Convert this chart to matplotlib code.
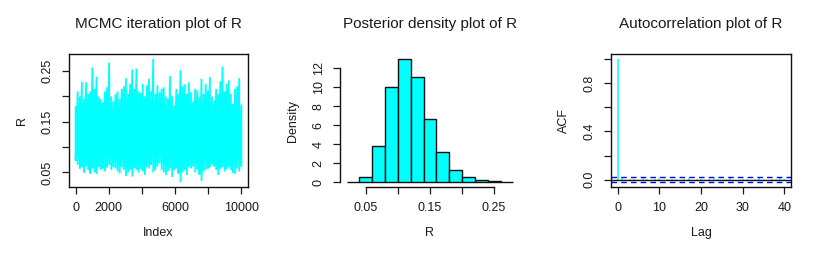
import numpy as np
import matplotlib
matplotlib.use("Agg")
from matplotlib import pyplot as plt

plt.rcParams['font.family'] = ['Liberation Sans', 'DejaVu Sans']
TXT = '#1a1a1a'

# --- trace of R: upper and lower envelope (80 each) ---
trace_high = [0.179, 0.210, 0.200, 0.229, 0.195, 0.228, 0.205, 0.210, 0.257, 0.215,
              0.239, 0.200, 0.195, 0.188, 0.210, 0.218, 0.267, 0.200, 0.190, 0.205,
              0.210, 0.195, 0.215, 0.220, 0.236, 0.205, 0.225, 0.253, 0.215, 0.255,
              0.210, 0.207, 0.225, 0.200, 0.222, 0.235, 0.210, 0.274, 0.205, 0.222,
              0.208, 0.215, 0.218, 0.200, 0.195, 0.240, 0.200, 0.182, 0.215, 0.205,
              0.252, 0.220, 0.224, 0.205, 0.228, 0.208, 0.190, 0.215, 0.212, 0.198,
              0.235, 0.205, 0.225, 0.212, 0.238, 0.200, 0.192, 0.215, 0.205, 0.230,
              0.259, 0.210, 0.225, 0.232, 0.205, 0.185, 0.215, 0.220, 0.236, 0.184]
trace_low = [0.073, 0.065, 0.058, 0.060, 0.050, 0.062, 0.055, 0.048, 0.058, 0.050,
             0.047, 0.060, 0.055, 0.058, 0.052, 0.060, 0.065, 0.055, 0.060, 0.058,
             0.052, 0.048, 0.060, 0.055, 0.043, 0.050, 0.056, 0.042, 0.060, 0.055,
             0.050, 0.056, 0.052, 0.045, 0.060, 0.058, 0.065, 0.050, 0.054, 0.062,
             0.068, 0.055, 0.050, 0.045, 0.053, 0.058, 0.041, 0.055, 0.058, 0.048,
             0.031, 0.050, 0.055, 0.045, 0.060, 0.058, 0.062, 0.050, 0.056, 0.046,
             0.033, 0.052, 0.055, 0.058, 0.060, 0.065, 0.062, 0.055, 0.045, 0.058,
             0.060, 0.052, 0.056, 0.060, 0.055, 0.050, 0.047, 0.058, 0.052, 0.063]
n_iter = 10000

# --- histogram of R (density per bin) ---
hist_breaks = [0.02, 0.04, 0.06, 0.08, 0.10, 0.12, 0.14, 0.16, 0.18, 0.20, 0.22, 0.24, 0.26, 0.28]
hist_density = [0.0, 0.5, 3.8, 10.0, 13.0, 11.1, 6.7, 3.2, 1.3, 0.5, 0.25, 0.1, 0.02]

# --- autocorrelation of R ---
acf_lags = list(range(0, 41))
acf_vals = [1.0, 0.01, -0.005, 0.008, 0.004, -0.006, 0.012, 0.003, -0.004, 0.007,
            0.010, -0.008, 0.005, 0.002, 0.009, -0.003, 0.006, 0.011, -0.002, 0.004,
            0.008, -0.007, 0.003, 0.010, 0.005, -0.004, 0.007, 0.012, 0.001, -0.005,
            0.006, 0.009, -0.002, 0.004, 0.013, 0.003, -0.006, 0.008, 0.005, 0.010, 0.002]
acf_clim = 1.96 / np.sqrt(n_iter)


def r_range(lo, hi):
    d = (hi - lo) * 0.04
    return lo - d, hi + d


def style_axis(ax):
    ax.tick_params(direction='out', length=5, width=0.9, colors=TXT, labelsize=9, pad=6)
    for s in ax.spines.values():
        s.set_linewidth(1.0)
        s.set_color('#111111')


fig = plt.figure(figsize=(8.18, 2.54), dpi=100)

# panel 1: trace
ax1 = fig.add_axes([69 / 818, 67 / 254, 179 / 818, 133 / 254])
trace = np.empty(2 * len(trace_high))
trace[0::2] = trace_high
trace[1::2] = trace_low
idx = np.repeat(np.linspace(1, n_iter, len(trace_high)), 2)
ax1.plot(idx, trace, color='#00ffff', lw=1.3, solid_joinstyle='miter')
ax1.set_xlim(*r_range(1, n_iter))
ax1.set_ylim(*r_range(min(trace), max(trace)))
ax1.set_xticks([0, 2000, 4000, 6000, 8000, 10000], ['0', '2000', '', '6000', '', '10000'])
ax1.set_yticks([0.05, 0.10, 0.15, 0.20, 0.25], ['0.05', '', '0.15', '', '0.25'])
style_axis(ax1)
for lab in ax1.get_yticklabels():
    lab.set_rotation(90)
    lab.set_va('center')
ax1.set_xlabel('Index', fontsize=9, color=TXT, labelpad=9)
ax1.set_ylabel('R', fontsize=9, color=TXT, labelpad=10)
ax1.set_title('MCMC iteration plot of R', fontsize=11, color=TXT, pad=19)

# panel 2: histogram
ax2 = fig.add_axes([340 / 818, 67 / 254, 180 / 818, 133 / 254])
left = hist_breaks[:-1]
widths = np.diff(hist_breaks)
ax2.bar(left, hist_density, width=widths, align='edge', color='#00ffff',
        edgecolor='#111111', linewidth=1.0)
ax2.set_xlim(*r_range(hist_breaks[0], hist_breaks[-1]))
ax2.set_ylim(*r_range(0, max(hist_density)))
ax2.set_xticks([0.05, 0.10, 0.15, 0.20, 0.25], ['0.05', '', '0.15', '', '0.25'])
ax2.set_yticks([0, 2, 4, 6, 8, 10, 12])
style_axis(ax2)
ax2.spines['top'].set_visible(False)
ax2.spines['right'].set_visible(False)
ax2.spines['left'].set_bounds(0, 12)
ax2.spines['bottom'].set_bounds(0.05, 0.25)
for lab in ax2.get_yticklabels():
    lab.set_rotation(90)
    lab.set_va('center')
ax2.set_xlabel('R', fontsize=9, color=TXT, labelpad=9)
ax2.set_ylabel('Density', fontsize=9, color=TXT, labelpad=10)
ax2.set_title('Posterior density plot of R', fontsize=11, color=TXT, pad=19)

# panel 3: autocorrelation
ax3 = fig.add_axes([611 / 818, 67 / 254, 180 / 818, 133 / 254])
ax3.vlines(acf_lags, 0, acf_vals, color='#00ffff', lw=1.1)
ax3.axhline(0, color='#111111', lw=1.0)
ax3.axhline(acf_clim, color='#0000ff', lw=1.0, ls=(0, (4, 3)))
ax3.axhline(-acf_clim, color='#0000ff', lw=1.0, ls=(0, (4, 3)))
ax3.set_xlim(*r_range(0, 40))
ax3.set_ylim(*r_range(-acf_clim, 1.0))
ax3.set_xticks([0, 10, 20, 30, 40])
ax3.set_yticks([0.0, 0.2, 0.4, 0.6, 0.8, 1.0], ['0.0', '', '0.4', '', '0.8', ''])
style_axis(ax3)
for lab in ax3.get_yticklabels():
    lab.set_rotation(90)
    lab.set_va('center')
ax3.set_xlabel('Lag', fontsize=9, color=TXT, labelpad=9)
ax3.set_ylabel('ACF', fontsize=9, color=TXT, labelpad=10)
ax3.set_title('Autocorrelation plot of R', fontsize=11, color=TXT, pad=19)

fig.savefig('out.png', dpi=100)
